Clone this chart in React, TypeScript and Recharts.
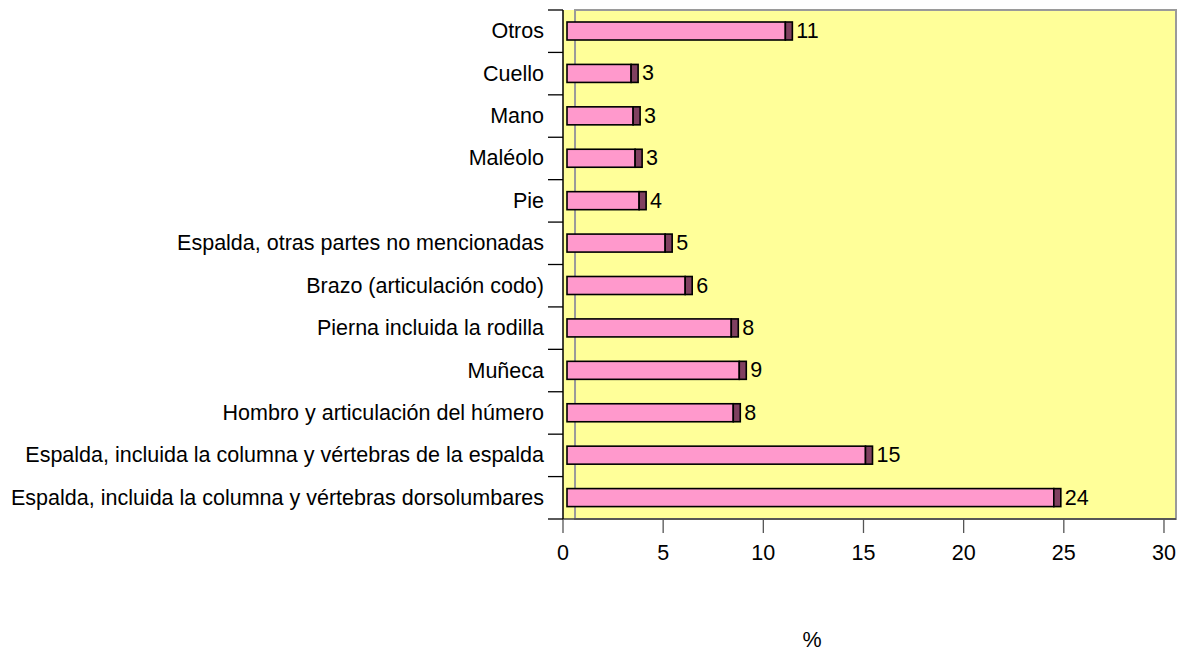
import React from "react";
import {
  BarChart, Bar, XAxis, YAxis, CartesianGrid, ReferenceArea, LabelList,
} from "recharts";

const CATEGORIES = [
  "Otros",
  "Cuello",
  "Mano",
  "Maléolo",
  "Pie",
  "Espalda, otras partes no mencionadas",
  "Brazo (articulación codo)",
  "Pierna incluida la rodilla",
  "Muñeca",
  "Hombro y articulación del húmero",
  "Espalda, incluida la columna y vértebras de la espalda",
  "Espalda, incluida la columna y vértebras dorsolumbares",
];
const VALUES = [11.1, 3.4, 3.5, 3.6, 3.8, 5.1, 6.1, 8.4, 8.8, 8.5, 15.1, 24.5];
const LABELS = ["11", "3", "3", "3", "4", "5", "6", "8", "9", "8", "15", "24"];
const X_TICKS = [0, 5, 10, 15, 20, 25, 30];
const X_MAX = 30.6;
const WALL = 0.6;

const FONT = "'Liberation Sans', Arial, sans-serif";
const FS = 21.5;
const W = 1193;
const H = 652;
const TOP = 10;
const PLOT_BOTTOM = 519;
const BAND = (PLOT_BOTTOM - TOP) / CATEGORIES.length;
const CAP = 7;

const data = CATEGORIES.map((name, i) => ({ name, value: VALUES[i], label: LABELS[i] }));

const YTick = (props: any) => {
  const { x, y, payload, index } = props;
  return (
    <g>
      {index === 0 && (
        <line x1={x - 15} x2={x} y1={y - BAND / 2} y2={y - BAND / 2} stroke="#000" strokeWidth={1.3} />
      )}
      <line x1={x - 15} x2={x} y1={y + BAND / 2} y2={y + BAND / 2} stroke="#000" strokeWidth={1.3} />
      <text x={x - 19} y={y} textAnchor="end" dominantBaseline="central"
        fontSize={FS} fontFamily={FONT} fill="#000">
        {payload.value}
      </text>
    </g>
  );
};

const BarShape = (props: any) => {
  const { x, y, width, height } = props;
  return (
    <g>
      <rect x={x + 4} y={y} width={Math.max(width - 4, 0)} height={height}
        fill="#FF99CC" stroke="#000" strokeWidth={1.6} />
      <rect x={x + width} y={y} width={CAP} height={height}
        fill="#804060" stroke="#000" strokeWidth={1.6} />
    </g>
  );
};

const BarLabel = (props: any) => {
  const { x, y, width, height, value } = props;
  return (
    <text x={x + width + CAP + 4} y={y + height / 2} dominantBaseline="central"
      fontSize={FS} fontFamily={FONT} fill="#000">
      {value}
    </text>
  );
};

export default function App() {
  return (
    <div style={{ position: "absolute", left: 0, top: 0, width: W, height: H, background: "#fff" }}>
      <BarChart
        width={W} height={H} data={data} layout="vertical"
        margin={{ top: TOP, right: 17, left: 0, bottom: H - PLOT_BOTTOM - 50 }}
        barSize={18}
      >
        <CartesianGrid fill="#FFFF99" horizontal={false} vertical={false} />
        <ReferenceArea x1={WALL} x2={X_MAX} fill="none" stroke="#9a9a9a" strokeWidth={2} />
        <XAxis
          type="number" domain={[0, X_MAX]} ticks={X_TICKS} height={50}
          tickSize={14} tickMargin={12}
          tick={{ fill: "#000", fontSize: FS, fontFamily: FONT }}
          axisLine={{ stroke: "#404040", strokeWidth: 1.5 }}
          tickLine={{ stroke: "#555", strokeWidth: 1.3 }}
        />
        <YAxis
          type="category" dataKey="name" width={563}
          tickSize={0} tickMargin={0} tickLine={false}
          axisLine={{ stroke: "#000", strokeWidth: 1.5 }}
          tick={<YTick />} interval={0}
        />
        <Bar dataKey="value" shape={<BarShape />} isAnimationActive={false}>
          <LabelList dataKey="label" content={<BarLabel />} />
        </Bar>
      </BarChart>
      <div style={{
        position: "absolute", left: 812, top: 628, transform: "translateX(-50%)",
        fontFamily: FONT, fontSize: FS, color: "#000", lineHeight: "24px",
      }}>
        %
      </div>
    </div>
  );
}
